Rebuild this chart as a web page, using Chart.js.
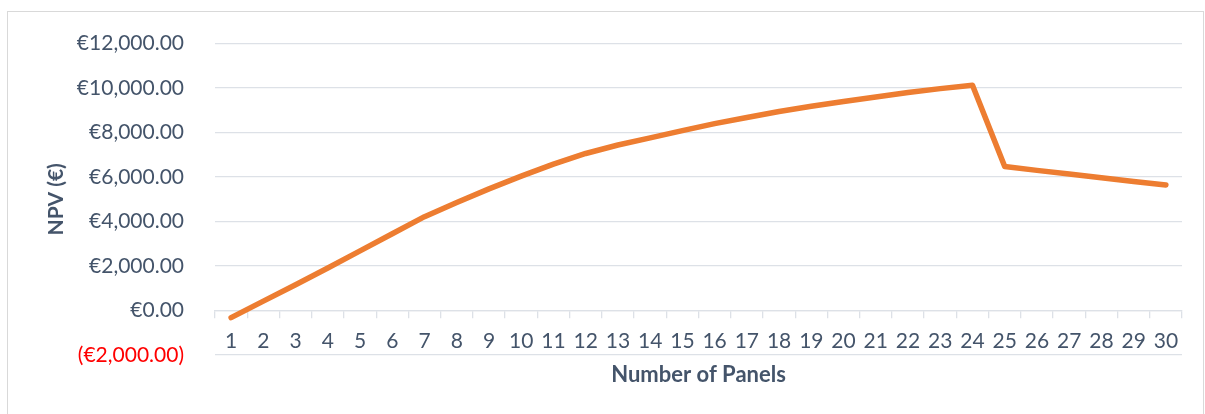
<!DOCTYPE html>
<html>
<head>
<meta charset="utf-8">
<script src="https://cdn.jsdelivr.net/npm/chart.js@4/dist/chart.umd.min.js"></script>
<style>
  html, body { margin: 0; padding: 0; background: #ffffff; }
  #wrap { position: relative; width: 1205px; height: 414px; overflow: hidden; }
  #frame { position: absolute; left: 7px; top: 11px; width: 1197px; height: 430px; border: 1px solid #d9d9d9; box-sizing: border-box; }
  #c { position: absolute; left: 0; top: 0; }
</style>
</head>
<body>
<div id="wrap">
  <div id="frame"></div>
  <canvas id="c" width="1205" height="414"></canvas>
</div>
<script>
const categories = ['1','2','3','4','5','6','7','8','9','10','11','12','13','14','15','16','17','18','19','20','21','22','23','24','25','26','27','28','29','30'];
const npv = [-320, 420, 1160, 1910, 2680, 3450, 4220, 4860, 5470, 6040, 6580, 7060, 7440, 7760, 8090, 8400, 8680, 8950, 9180, 9400, 9600, 9800, 9975, 10130, 6470, 6300, 6140, 5970, 5800, 5640];
const yMin = -2000;
const yMax = 12000;
const yStep = 2000;
const seriesName = 'NPV';
const xTitle = 'Number of Panels';
const yTitle = 'NPV (€)';

const TEXT = '#44546A';
const GRID = '#dde1e7';
const FONT = 'Lato';

function euro(v) {
  const s = '€' + Math.abs(v).toLocaleString('en-US', {minimumFractionDigits: 2, maximumFractionDigits: 2});
  return v < 0 ? '(' + s + ')' : s;
}

new Chart(document.getElementById('c'), {
  type: 'line',
  data: {
    labels: categories,
    datasets: [{
      label: seriesName,
      data: npv,
      borderColor: '#ED7D31',
      backgroundColor: '#ED7D31',
      borderWidth: 5.5,
      borderCapStyle: 'round',
      borderJoinStyle: 'round',
      pointRadius: 0,
      pointHoverRadius: 0,
      tension: 0,
      fill: false,
      xAxisID: 'x',
      yAxisID: 'y'
    }]
  },
  options: {
    responsive: false,
    animation: false,
    devicePixelRatio: 1,
    layout: { padding: { left: 0, top: 40, right: 23, bottom: 0 } },
    plugins: { legend: { display: false }, tooltip: { enabled: false } },
    scales: {
      x: {
        type: 'category',
        position: { y: 0 },
        offset: true,
        grid: { display: true, offset: true, drawOnChartArea: false, drawTicks: true, tickLength: 7, color: GRID, lineWidth: 1.3 },
        border: { display: true, color: GRID, width: 1.3 },
        ticks: { autoSkip: false, maxRotation: 0, minRotation: 0, padding: 11, color: TEXT, font: { family: FONT, size: 21 } },
        title: { display: false }
      },
      x2: {
        type: 'category',
        position: 'bottom',
        grid: { display: false },
        border: { display: false },
        ticks: { display: false },
        title: { display: true, text: xTitle, color: TEXT, font: { family: FONT, size: 22, weight: 'bold' }, padding: { top: 0, bottom: 26 } },
        afterFit: s => { s.height = 59; }
      },
      y: {
        type: 'linear',
        position: 'left',
        min: yMin,
        max: yMax,
        ticks: {
          stepSize: yStep,
          padding: 31,
          color: ctx => ctx.tick.value < 0 ? '#FF0000' : TEXT,
          font: { family: FONT, size: 21 },
          callback: v => euro(v)
        },
        grid: { color: GRID, lineWidth: 1.3, drawTicks: false },
        border: { display: false },
        title: { display: true, text: yTitle, color: TEXT, font: { family: FONT, size: 21, weight: 'bold' }, padding: { top: 44, bottom: 0 } },
        afterFit: s => { s.width = 215; }
      }
    }
  }
});
</script>
</body>
</html>
